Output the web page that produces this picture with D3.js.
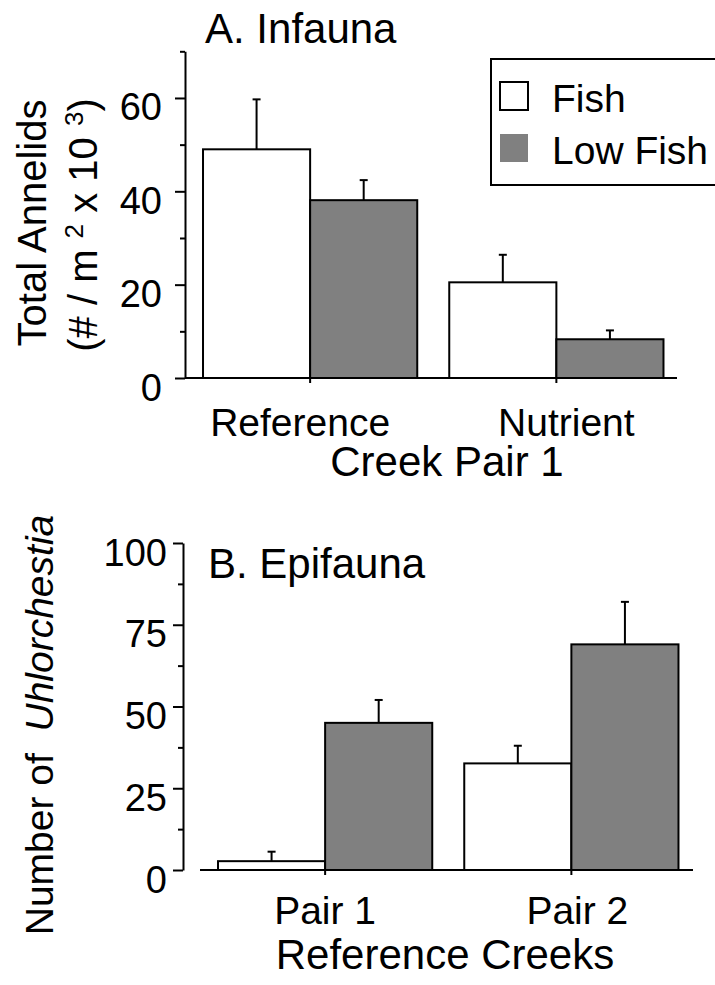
<!DOCTYPE html>
<html>
<head>
<meta charset="utf-8">
<script src="https://cdn.jsdelivr.net/npm/d3@7"></script>
<style>
  body { margin: 0; background: #fff; }
  svg { display: block; font-family: "Liberation Sans", Arial, sans-serif; }
</style>
</head>
<body>
<div id="chart"></div>
<script>
// Data
const treatments = ["Fish", "Low Fish"];

// Panel A - infauna
const groupsA = ["Reference", "Nutrient"];
const fishA = [49, 20.5];
const lowFishA = [38.1, 8.3];
const fishErrA = [10.7, 5.9];
const lowFishErrA = [4.3, 1.9];
const majorTicksA = [0, 20, 40, 60];
const minorTicksA = [10, 30, 50, 70];

// Panel B - epifauna
const groupsB = ["Pair 1", "Pair 2"];
const fishB = [2.7, 32.6];
const lowFishB = [45, 69];
const fishErrB = [2.9, 5.4];
const lowFishErrB = [7, 13];
const majorTicksB = [0, 25, 50, 75, 100];
const minorTicksB = [12.5, 37.5, 62.5, 87.5];

const colors = { "Fish": "#ffffff", "Low Fish": "#808080" };

const width = 715;
const height = 985;

const svg = d3.select("#chart")
    .append("svg")
    .attr("width", width)
    .attr("height", height);

function drawPanel(opts) {
    const { groups, fish, lowFish, fishErr, lowFishErr, yMax, majorTicks, minorTicks } = opts;

    const y = d3.scaleLinear()
        .domain([0, yMax])
        .range([opts.y0, opts.y1]);

    const x0 = d3.scaleBand()
        .domain(groups)
        .range(opts.bandRange)
        .paddingInner(0.13)
        .paddingOuter(0.063);

    const x1 = d3.scaleBand()
        .domain(treatments)
        .range([0, x0.bandwidth()]);

    const rows = groups.map((g, i) => ({
        group: g,
        values: [
            { key: "Fish", value: fish[i], err: fishErr[i] },
            { key: "Low Fish", value: lowFish[i], err: lowFishErr[i] }
        ]
    }));

    const g = svg.append("g");

    // error bars first, bars on top hide the lower part
    const grp = g.selectAll(".grp")
        .data(rows)
        .enter()
        .append("g")
        .attr("transform", d => `translate(${x0(d.group)},0)`);

    grp.selectAll("line.err")
        .data(d => d.values)
        .enter()
        .append("line")
        .attr("x1", d => x1(d.key) + x1.bandwidth() / 2)
        .attr("x2", d => x1(d.key) + x1.bandwidth() / 2)
        .attr("y1", d => y(d.value))
        .attr("y2", d => y(d.value + d.err))
        .attr("stroke", "#000")
        .attr("stroke-width", 2);

    grp.selectAll("line.cap")
        .data(d => d.values)
        .enter()
        .append("line")
        .attr("x1", d => x1(d.key) + x1.bandwidth() / 2 - 4)
        .attr("x2", d => x1(d.key) + x1.bandwidth() / 2 + 4)
        .attr("y1", d => y(d.value + d.err))
        .attr("y2", d => y(d.value + d.err))
        .attr("stroke", "#000")
        .attr("stroke-width", 2);

    grp.selectAll("rect")
        .data(d => d.values)
        .enter()
        .append("rect")
        .attr("x", d => x1(d.key))
        .attr("y", d => y(d.value))
        .attr("width", x1.bandwidth())
        .attr("height", d => y(0) - y(d.value))
        .attr("fill", d => colors[d.key])
        .attr("stroke", "#000")
        .attr("stroke-width", 2);

    // x axis
    g.append("line")
        .attr("x1", opts.xLine[0])
        .attr("x2", opts.xLine[1])
        .attr("y1", y(0))
        .attr("y2", y(0))
        .attr("stroke", "#000")
        .attr("stroke-width", 2);

    g.selectAll(".xtick")
        .data(groups)
        .enter()
        .append("line")
        .attr("x1", d => x0(d) + x0.bandwidth() / 2)
        .attr("x2", d => x0(d) + x0.bandwidth() / 2)
        .attr("y1", y(0))
        .attr("y2", y(0) + 5)
        .attr("stroke", "#000")
        .attr("stroke-width", 2);

    g.selectAll(".xlabel")
        .data(groups)
        .enter()
        .append("text")
        .attr("x", (d, i) => x0(d) + x0.bandwidth() / 2 + opts.labelShift[i])
        .attr("y", opts.xLabelY)
        .attr("text-anchor", "middle")
        .style("font-size", "39px")
        .text(d => d);

    // y axis
    const yAxis = g.append("g")
        .attr("transform", `translate(${opts.axisX},0)`)
        .call(d3.axisLeft(y)
            .tickValues(majorTicks)
            .tickSize(10)
            .tickSizeOuter(0)
            .tickPadding(opts.tickPad)
            .tickFormat(d3.format("d")));

    yAxis.select(".domain").attr("stroke-width", 2);
    yAxis.selectAll(".tick line").attr("stroke-width", 2);
    yAxis.selectAll(".tick text")
        .attr("dy", 22)
        .style("font-size", "38px")
        .style("font-family", "Liberation Sans, Arial, sans-serif")
        .attr("fill", "#000");

    g.append("g")
        .attr("transform", `translate(${opts.axisX},0)`)
        .call(d3.axisLeft(y)
            .tickValues(minorTicks)
            .tickSize(5)
            .tickSizeOuter(0)
            .tickFormat(""))
        .call(a => a.select(".domain").remove())
        .selectAll(".tick line").attr("stroke-width", 2);

    // panel title and x title
    g.append("text")
        .attr("x", opts.titleX)
        .attr("y", opts.titleY)
        .style("font-size", "42px")
        .text(opts.title);

    g.append("text")
        .attr("x", opts.xTitleX)
        .attr("y", opts.xTitleY)
        .attr("text-anchor", "middle")
        .style("font-size", "42px")
        .text(opts.xTitle);

    return g;
}

drawPanel({
    groups: groupsA, fish: fishA, lowFish: lowFishA, fishErr: fishErrA, lowFishErr: lowFishErrA,
    yMax: 70, majorTicks: majorTicksA, minorTicks: minorTicksA,
    y0: 378, y1: 51.3, bandRange: [187.5, 679], xLine: [185, 677],
    axisX: 185, tickPad: 13, xLabelY: 436, labelShift: [-10, 10],
    title: "A. Infauna", titleX: 205, titleY: 43,
    xTitle: "Creek Pair 1", xTitleX: 447, xTitleY: 476
});

drawPanel({
    groups: groupsB, fish: fishB, lowFish: lowFishB, fishErr: fishErrB, lowFishErr: lowFishErrB,
    yMax: 100, majorTicks: majorTicksB, minorTicks: minorTicksB,
    y0: 870, y1: 543, bandRange: [202.5, 694], xLine: [200, 693],
    axisX: 183, tickPad: 6, xLabelY: 924, labelShift: [0, 6],
    title: "B. Epifauna", titleX: 208, titleY: 578,
    xTitle: "Reference Creeks", xTitleX: 445, xTitleY: 969
});

// y titles
svg.append("text")
    .attr("transform", "translate(46,223) rotate(-90)")
    .attr("text-anchor", "middle")
    .style("font-size", "40px")
    .text("Total Annelids");

const unit = svg.append("text")
    .attr("transform", "translate(97,225) rotate(-90)")
    .attr("text-anchor", "middle")
    .style("font-size", "40px");
unit.append("tspan").text("(# / m ");
unit.append("tspan").attr("dy", -14).style("font-size", "26px").text("2");
unit.append("tspan").attr("dy", 14).text(" x 10 ");
unit.append("tspan").attr("dy", -14).style("font-size", "26px").text("3");
unit.append("tspan").attr("dy", 14).text(")");

const yb = svg.append("text")
    .attr("transform", "translate(53,725) rotate(-90)")
    .attr("text-anchor", "middle")
    .style("font-size", "39px")
    .attr("xml:space", "preserve")
    .style("white-space", "pre");
yb.append("tspan").text("Number of  ");
yb.append("tspan").style("font-style", "italic").text("Uhlorchestia");

// legend
const legend = svg.append("g");
legend.append("rect")
    .attr("x", 491)
    .attr("y", 59)
    .attr("width", 260)
    .attr("height", 126)
    .attr("fill", "#fff")
    .attr("stroke", "#000")
    .attr("stroke-width", 2);

const item = legend.selectAll(".item")
    .data(treatments)
    .enter()
    .append("g")
    .attr("transform", (d, i) => `translate(500,${82 + i * 52})`);

item.append("rect")
    .attr("width", 28)
    .attr("height", 28)
    .attr("fill", d => colors[d])
    .attr("stroke", d => d === "Fish" ? "#000" : "none")
    .attr("stroke-width", 2);

item.append("text")
    .attr("x", 52)
    .attr("y", 30)
    .style("font-size", "39px")
    .text(d => d);
</script>
</body>
</html>
